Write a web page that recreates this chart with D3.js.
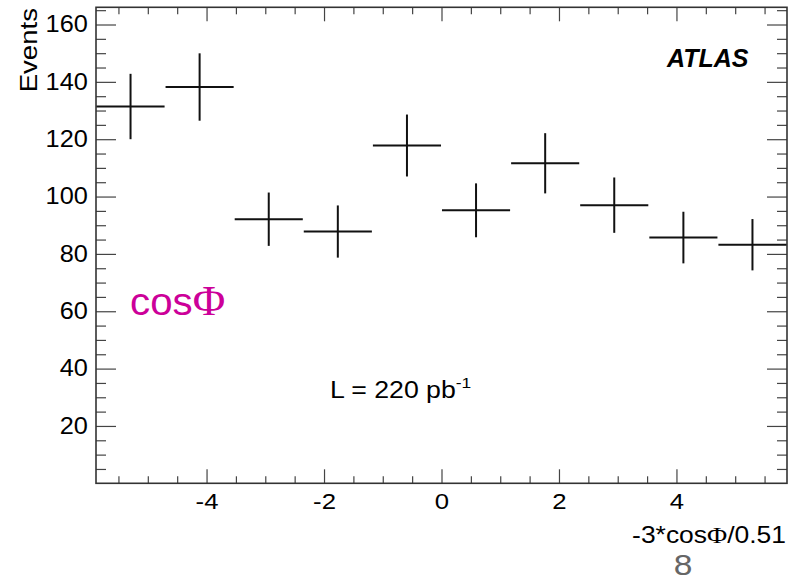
<!DOCTYPE html>
<html><head><meta charset="utf-8">
<script src="https://cdn.jsdelivr.net/npm/d3@7"></script>
<style>
html,body{margin:0;padding:0;background:#fff;}
svg{display:block;font-family:"Liberation Sans",Arial,Helvetica,sans-serif;}
</style></head>
<body>
<svg id="c" width="803" height="577"></svg>
<script>
// ---- data ----
const binCenters = [-5.294, -4.118, -2.941, -1.765, -0.588, 0.588, 1.765, 2.941, 4.118, 5.294];
const binWidth = 1.1765;
const events = [131.4, 138.2, 92.1, 87.8, 117.8, 95.2, 111.6, 97.0, 85.7, 83.2];
const errors = [11.4, 11.75, 9.3, 9.1, 10.8, 9.4, 10.5, 9.65, 9.0, 8.95];
const xMajorTicks = [-4, -2, 0, 2, 4];
const yMajorTicks = [20, 40, 60, 80, 100, 120, 140, 160];
const xDomain = [-5.882, 5.882];
const yDomain = [0, 166];

const svg = d3.select("#c");
const L = 96, R = 787, T = 7.3, B = 483.3;
const x = d3.scaleLinear().domain(xDomain).range([L, R]);
const y = d3.scaleLinear().domain(yDomain).range([B, T]);

const xMinor = d3.range(-5.5, 5.51, 0.5).filter(v => Math.abs(v % 2) > 1e-6);
const yMinor = d3.range(5, 166, 5).filter(v => v % 20 !== 0);

function styleAxis(g) {
  g.select(".domain").remove();
  g.selectAll(".tick line").attr("stroke", "#444").attr("stroke-width", 1.2);
  g.selectAll("text").attr("fill", "#000").attr("font-size", 23)
    .attr("font-family", "Liberation Sans, Arial, sans-serif");
}

// bottom axis majors with labels
const gxb = svg.append("g").attr("transform", `translate(0,${B})`)
  .call(d3.axisBottom(x).tickValues(xMajorTicks).tickSizeInner(-14).tickSizeOuter(0)
    .tickPadding(9.5).tickFormat(d => String(d)));
styleAxis(gxb);
gxb.selectAll("text").attr("transform", "scale(1.12,1)");
svg.append("g").attr("transform", `translate(0,${B})`)
  .call(d3.axisBottom(x).tickValues(xMinor).tickSizeInner(-7).tickSizeOuter(0).tickFormat(""))
  .call(styleAxis);
// top axis
svg.append("g").attr("transform", `translate(0,${T})`)
  .call(d3.axisTop(x).tickValues(xMajorTicks).tickSizeInner(-14).tickSizeOuter(0).tickFormat(""))
  .call(styleAxis);
svg.append("g").attr("transform", `translate(0,${T})`)
  .call(d3.axisTop(x).tickValues(xMinor).tickSizeInner(-7).tickSizeOuter(0).tickFormat(""))
  .call(styleAxis);
// left axis
const gyl = svg.append("g").attr("transform", `translate(${L},0)`)
  .call(d3.axisLeft(y).tickValues(yMajorTicks).tickSizeInner(-20).tickSizeOuter(0)
    .tickPadding(7.5).tickFormat(d => String(d)));
styleAxis(gyl);
gyl.selectAll("text").attr("transform", "scale(1.1,1)");
svg.append("g").attr("transform", `translate(${L},0)`)
  .call(d3.axisLeft(y).tickValues(yMinor).tickSizeInner(-10).tickSizeOuter(0).tickFormat(""))
  .call(styleAxis);
// right axis
svg.append("g").attr("transform", `translate(${R},0)`)
  .call(d3.axisRight(y).tickValues(yMajorTicks).tickSizeInner(-20).tickSizeOuter(0).tickFormat(""))
  .call(styleAxis);
svg.append("g").attr("transform", `translate(${R},0)`)
  .call(d3.axisRight(y).tickValues(yMinor).tickSizeInner(-10).tickSizeOuter(0).tickFormat(""))
  .call(styleAxis);

// frame
svg.append("rect").attr("x", L).attr("y", T).attr("width", R - L).attr("height", B - T)
  .attr("fill", "none").attr("stroke", "#333").attr("stroke-width", 1.6);

// data crosses
const pts = binCenters.map((c, i) => ({c, v: events[i], e: errors[i]}));
const g = svg.append("g").attr("stroke", "#111").attr("stroke-width", 2);
g.selectAll("line.h").data(pts).join("line").attr("class", "h")
  .attr("x1", d => x(d.c - binWidth / 2) + 0.5).attr("x2", d => x(d.c + binWidth / 2) - 0.5)
  .attr("y1", d => y(d.v)).attr("y2", d => y(d.v));
g.selectAll("line.v").data(pts).join("line").attr("class", "v")
  .attr("x1", d => x(d.c)).attr("x2", d => x(d.c))
  .attr("y1", d => y(d.v + d.e)).attr("y2", d => y(d.v - d.e));

// texts
svg.append("text").attr("transform", "translate(36.5,8) rotate(-90) scale(1.2,1)")
  .attr("text-anchor", "end").attr("font-size", 23).text("Events");

const xt = svg.append("text").attr("transform", "translate(786,543) scale(1.15,1)")
  .attr("text-anchor", "end").attr("font-size", 23);
xt.append("tspan").text("-3*cos");
xt.append("tspan").attr("font-family", "Liberation Serif, serif").attr("font-size", 24).text("Φ");
xt.append("tspan").text("/0.51");

const lt = svg.append("text").attr("transform", "translate(330,397.7) scale(1.16,1)")
  .attr("font-size", 23);
lt.append("tspan").text("L = 220 pb");
lt.append("tspan").attr("font-size", 15).attr("dy", -10).text("-1");

svg.append("text").attr("x", 667).attr("y", 67.3).attr("font-size", 25)
  .attr("font-weight", "bold").attr("font-style", "italic").text("ATLAS");

const ct = svg.append("text").attr("transform", "translate(130,315) scale(1.06,1)")
  .attr("fill", "#cc0099").attr("font-size", 38);
ct.append("tspan").text("cos");
ct.append("tspan").attr("font-family", "Liberation Serif, serif").attr("font-size", 42).text("Φ");

svg.append("text").attr("transform", "translate(683,575) scale(1.12,1)")
  .attr("text-anchor", "middle").attr("fill", "#666").attr("font-size", 30).text("8");
</script>
</body></html>
